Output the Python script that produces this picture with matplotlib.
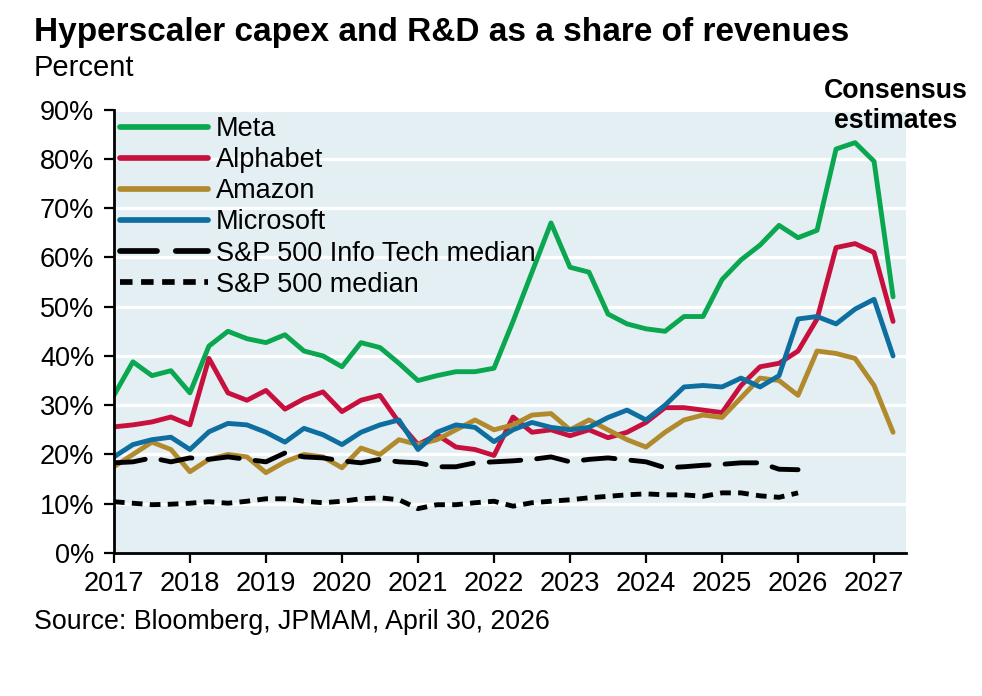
import matplotlib
matplotlib.use("Agg")
import matplotlib.pyplot as plt
import numpy as np
from matplotlib import font_manager

# ---------------- data (quarterly, percent of revenues) ----------------
start_year = 2017.0
meta = [32, 38.8, 36, 37, 32.5, 42, 45, 43.5, 42.7, 44.3, 41, 40, 37.8, 42.7, 41.7, 38.5,
        35, 36, 36.8, 36.8, 37.5, 47, 57, 67, 58, 57, 48.5, 46.5, 45.5, 45, 48,
        48, 55.5, 59.5, 62.5, 66.5, 64, 65.5, 82, 83.3, 79.5, 52]
alphabet = [25.6, 26, 26.6, 27.6, 26, 39.5, 32.5, 31, 33, 29.2, 31.3, 32.7, 28.7, 31, 32, 26.5,
            22, 24, 21.5, 21, 19.8, 27.6, 24.5, 25, 23.8, 25, 23.4, 24.5, 26.5, 29.5, 29.5,
            29, 28.5, 34, 37.8, 38.5, 41, 47.5, 62, 62.8, 61, 47]
amazon = [17.5, 20, 22.5, 21, 16.5, 19, 20, 19.5, 16.3, 18.5, 20, 19.5, 17.3, 21.3, 20, 23,
          22, 23, 25, 27, 25, 26, 28, 28.3, 25, 27, 25, 23, 21.5, 24.5, 27,
          28, 27.5, 31.5, 35.5, 35, 32, 41, 40.5, 39.5, 34, 24.5]
microsoft = [19.5, 22, 23, 23.5, 21, 24.6, 26.3, 26, 24.5, 22.5, 25.3, 24, 22, 24.5, 26, 27,
             21, 24.5, 26, 25.5, 22.6, 25, 26.5, 25.5, 25, 25.5, 27.5, 29, 27, 30, 33.7,
             34, 33.7, 35.5, 33.7, 36, 47.5, 48, 46.5, 49.5, 51.5, 40]
info_tech_median = [18.3, 18.5, 19.3, 18.5, 19.3, 19, 19.5, 19, 18.5, 20.3, 19.5, 19.3, 18.7, 18.3,
                    19, 18.5, 18.3, 17.5, 17.5, 18.3, 18.5, 18.7, 19, 19.5, 18.5, 19, 19.3, 18.9,
                    18.5, 17.3, 17.5, 17.8, 18, 18.3, 18.3, 17, 16.9]
sp500_median = [10.4, 10.1, 9.8, 9.9, 10.1, 10.4, 10.1, 10.5, 11, 11, 10.5, 10.2, 10.5, 11, 11.2,
                10.8, 9, 9.8, 9.8, 10.2, 10.5, 9.5, 10.2, 10.5, 10.8, 11.2, 11.5, 11.8, 12, 11.8,
                11.8, 11.5, 12.2, 12.2, 11.6, 11.3, 12.2]
estimates_start = 2026.25
year_ticks = list(range(2017, 2028))
pct_ticks = list(range(0, 100, 10))

labels = ["Meta", "Alphabet", "Amazon", "Microsoft", "S&P 500 Info Tech median", "S&P 500 median"]
colors = ["#0aa650", "#c8103e", "#b28a2e", "#0e6e9f", "black", "black"]

# ---------------- fonts ----------------
avail = {f.name for f in font_manager.fontManager.ttflist}
base = "Liberation Sans" if "Liberation Sans" in avail else "DejaVu Sans"
plt.rcParams["font.family"] = [base, "DejaVu Sans"]

fig = plt.figure(figsize=(9.82, 6.96), dpi=100)
ax = fig.add_axes([0.116, 0.2055, 0.8066, 0.637])
ax.set_facecolor("#e3eff3")

def qx(n):
    return start_year + 0.25 * np.arange(n)

lw = 3.5
series = [meta, alphabet, amazon, microsoft]
handles = []
for s, lab, c in zip(series, labels[:4], colors[:4]):
    h, = ax.plot(qx(len(s)), s, color=c, lw=lw, solid_joinstyle="round",
                 solid_capstyle="round", label=lab, zorder=3)
    handles.append(h)
h, = ax.plot(qx(len(info_tech_median)), info_tech_median, color="black", lw=lw,
             dashes=(6.5, 3.3), dash_capstyle="round", label=labels[4], zorder=3)
handles.append(h)
h, = ax.plot(qx(len(sp500_median)), sp500_median, color="black", lw=lw,
             dashes=(2.2, 1.5), dash_capstyle="butt", label=labels[5], zorder=3)
handles.append(h)

ax.axvline(estimates_start, color="black", lw=3, linestyle=(0, (0, 2.5)),
           dash_capstyle="round", zorder=4)

ax.set_xlim(2017, 2027.42)
ax.set_ylim(0, 90)
ax.set_yticks(pct_ticks)
ax.set_yticklabels([f"{v}%" for v in pct_ticks])
ax.set_xticks(year_ticks)
ax.set_xticklabels([str(y) for y in year_ticks])
ax.grid(axis="y", color="white", lw=2.4, zorder=1)
ax.set_axisbelow(True)
for sp in ["top", "right"]:
    ax.spines[sp].set_visible(False)
for sp in ["left", "bottom"]:
    ax.spines[sp].set_linewidth(2)
    ax.spines[sp].set_zorder(5)
ax.tick_params(axis="y", length=7, width=1.6, direction="out", pad=7)
ax.tick_params(axis="x", length=7, width=1.6, direction="out", pad=6)
for t in ax.get_xticklabels() + ax.get_yticklabels():
    t.set_fontsize(19.5)

leg = ax.legend(handles=handles, loc="upper left", frameon=False, fontsize=19.5,
                handlelength=3.25, handletextpad=0.3, labelspacing=0.19,
                borderaxespad=0.0, bbox_to_anchor=(-0.006, 1.01))
for line in leg.get_lines():
    line.set_linewidth(lw + 0.6)

fig.text(34 / 982, 1 - 32 / 696, "Hyperscaler capex and R&D as a share of revenues",
         fontsize=24, fontweight="bold", va="center", ha="left")
fig.text(34 / 982, 1 - 68 / 696, "Percent", fontsize=21, va="center", ha="left")
fig.text(896 / 982, 1 - 106 / 696, "Consensus\nestimates", fontsize=19.3, fontweight="bold",
         va="center", ha="center", linespacing=1.2)
fig.text(34 / 982, 1 - 622 / 696, "Source: Bloomberg, JPMAM, April 30, 2026",
         fontsize=19.3, va="center", ha="left")

fig.savefig("out.png", dpi=100, facecolor="white")
